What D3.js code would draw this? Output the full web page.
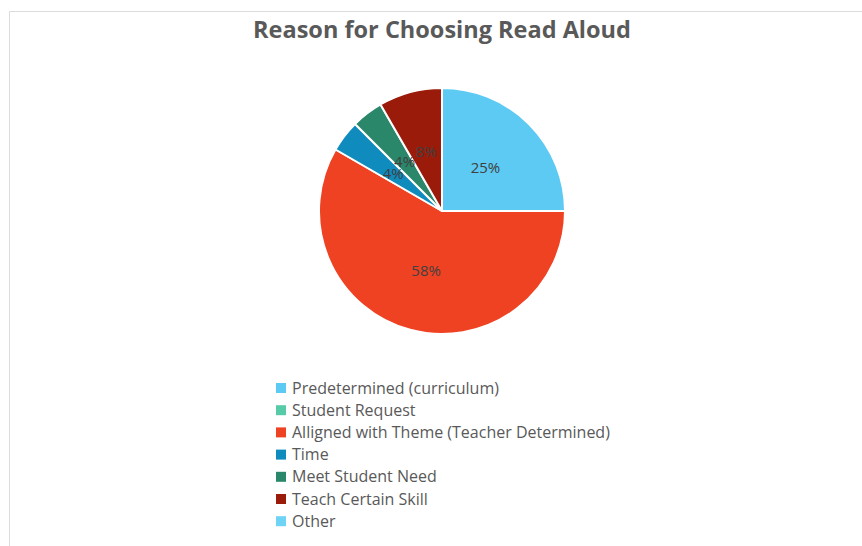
<!DOCTYPE html>
<html>
<head>
<meta charset="utf-8">
<script src="https://cdn.jsdelivr.net/npm/d3@7"></script>
<style>
  body { margin: 0; background: #fff; }
  text { font-family: "Open Sans", sans-serif; }
</style>
</head>
<body>
<div id="chart"></div>
<script>
const categories = [
  "Predetermined (curriculum)",
  "Student Request",
  "Alligned with Theme (Teacher Determined)",
  "Time",
  "Meet Student Need",
  "Teach Certain Skill",
  "Other"
];
const counts = [6, 0, 14, 1, 1, 2, 0];
const colors = ["#5ccaf2", "#57cba8", "#ef4223", "#0f8bbd", "#2a876a", "#9a1b0a", "#6fd3f5"];

const width = 862,
  height = 546,
  cx = 442,
  cy = 211,
  radius = 123;

const data = categories.map((c, i) => ({ category: c, amount: counts[i] }));
const total = d3.sum(counts);

const arcs = d3.pie().sort(null).value(d => d.amount)(data);
const arc = d3.arc().innerRadius(0).outerRadius(radius);
const labelArc = d3.arc().innerRadius(0).outerRadius(radius); // centroid sits at half the radius

const svg = d3.select("#chart")
  .append("svg")
  .attr("width", width)
  .attr("height", height);

// chart frame
svg.append("rect")
  .attr("x", 9.5)
  .attr("y", 11.5)
  .attr("width", width + 20)
  .attr("height", height + 20)
  .attr("fill", "white")
  .attr("stroke", "#dcdcdc");

svg.append("text")
  .attr("x", cx)
  .attr("y", 38)
  .attr("text-anchor", "middle")
  .attr("font-size", 23.5)
  .attr("font-weight", "bold")
  .attr("fill", "#595959")
  .text("Reason for Choosing Read Aloud");

const pie = svg.append("g").attr("transform", `translate(${cx},${cy})`);

pie.append("g")
  .attr("stroke", "white")
  .attr("stroke-width", 2)
  .attr("stroke-linejoin", "round")
  .selectAll("path")
  .data(arcs.filter(d => d.data.amount > 0))
  .join("path")
  .attr("fill", d => colors[d.index])
  .attr("d", arc);

pie.append("g")
  .attr("font-size", 15)
  .attr("fill", "#404040")
  .attr("text-anchor", "middle")
  .selectAll("text")
  .data(arcs.filter(d => d.data.amount > 0))
  .join("text")
  .attr("transform", d => `translate(${labelArc.centroid(d)})`)
  .attr("dy", "0.35em")
  .text(d => d3.format(".0%")(d.data.amount / total));

const legend = svg.append("g")
  .attr("transform", "translate(276,388)")
  .selectAll("g")
  .data(categories)
  .join("g")
  .attr("transform", (d, i) => `translate(0,${i * 22.2})`);

legend.append("rect")
  .attr("x", 0)
  .attr("y", -5)
  .attr("width", 10)
  .attr("height", 10)
  .attr("fill", (d, i) => colors[i]);

legend.append("text")
  .attr("x", 16)
  .attr("dy", "0.35em")
  .attr("font-size", 16)
  .attr("fill", "#595959")
  .text(d => d);
</script>
</body>
</html>
